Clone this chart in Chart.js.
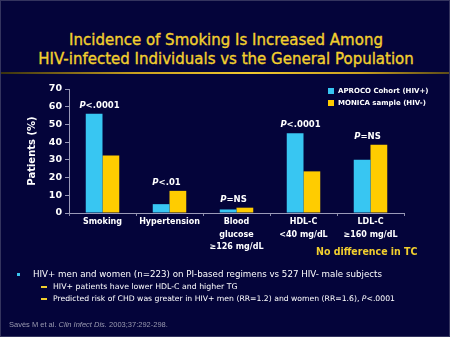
<!DOCTYPE html>
<html>
<head>
<meta charset="utf-8">
<script src="https://cdn.jsdelivr.net/npm/chart.js@4"></script>
<style>
  html, body { margin: 0; padding: 0; background: #04043a; }
  #wrap { position: relative; width: 450px; height: 337px; background: #04043a; box-sizing: border-box; border: 1px solid #34345e; overflow: hidden; font-family: "DejaVu Sans", sans-serif; }
  #chart { position: absolute; left: -1px; top: -1px; }
  .title { position: absolute; left: 0; width: 450px; text-align: center; color: #f2cf2e; font-family: "DejaVu Sans", sans-serif; font-size: 15px; -webkit-text-stroke: 0.35px #f2cf2e; }
  .rule { position: absolute; left: 0; top: 71px; width: 450px; height: 2px; background: linear-gradient(to right, #3a3210, #c9a020 30%, #f0c830 55%, #c9a020 80%, #5a4a18); }
  .note { position: absolute; color: #f2cf2e; font-family: "DejaVu Sans Condensed", "DejaVu Sans", sans-serif; font-weight: bold; font-size: 10.5px; }
  .txt { position: absolute; color: #ffffff; white-space: nowrap; }
  .dot { position: absolute; width: 3px; height: 3px; background: #3ac4f0; }
  .dash { position: absolute; width: 6px; height: 1.5px; background: #f2cf2e; }
  .cite { position: absolute; color: #9a9ab0; font-size: 7.5px; font-family: "Liberation Sans", sans-serif; white-space: nowrap; }
</style>
</head>
<body>
<div id="wrap">
  <div class="title" style="top:30px">Incidence of Smoking Is Increased Among</div>
  <div class="title" style="top:49px">HIV-infected Individuals vs the General Population</div>
  <div class="rule"></div>
  <canvas id="chart" width="450" height="337"></canvas>
  <div class="note" style="left:315px; top:244px">No difference in TC</div>
  <div class="dot" style="left:16px; top:272px"></div>
  <div class="txt" style="left:32px; top:268px; font-size:8.7px">HIV+ men and women (n=223) on PI-based regimens vs 527 HIV- male subjects</div>
  <div class="dash" style="left:40px; top:285px"></div>
  <div class="txt" style="left:52px; top:281px; font-size:7.8px">HIV+ patients have lower HDL-C and higher TG</div>
  <div class="dash" style="left:40px; top:297px"></div>
  <div class="txt" style="left:52px; top:292.5px; font-size:7.7px">Predicted risk of CHD was greater in HIV+ men (RR=1.2) and women (RR=1.6), <i>P</i>&lt;.0001</div>
  <div class="cite" style="left:8px; top:319px">Savès M et al. <i>Clin Infect Dis.</i> 2003;37:292-298.</div>
</div>
<script>
var categories = [["Smoking"], ["Hypertension"], ["Blood", "glucose", "\u2265126 mg/dL"], ["HDL-C", "<40 mg/dL"], ["LDL-C", "\u2265160 mg/dL"]];
var aprocoValues = [56, 5, 2, 45, 30];
var monicaValues = [32.5, 12.5, 3, 23.5, 38.5];
var pValues = ["<.0001", "<.01", "=NS", "<.0001", "=NS"];
var seriesNames = ["APROCO Cohort (HIV+)", "MONICA sample (HIV-)"];
var yTicks = [0, 10, 20, 30, 40, 50, 60, 70];

var cyan = '#38c6f2';
var yellow = '#ffcc00';

// P-value above each pair of bars
var pLabels = {
    id: 'pLabels',
    afterDatasetsDraw: function(chart) {
        var ctx = chart.ctx;
        var x = chart.scales.x, y = chart.scales.y;
        ctx.save();
        ctx.fillStyle = '#ffffff';
        ctx.textBaseline = 'alphabetic';
        for (var i = 0; i < pValues.length; i++) {
            var top = y.getPixelForValue(Math.max(aprocoValues[i], monicaValues[i]));
            var cx = x.getPixelForValue(i) - 3;
            ctx.font = 'italic bold 8.5px "DejaVu Sans"';
            var w1 = ctx.measureText('P').width;
            ctx.font = 'bold 8.5px "DejaVu Sans"';
            var w2 = ctx.measureText(pValues[i]).width;
            var sx = cx - (w1 + w2) / 2;
            ctx.font = 'italic bold 8.5px "DejaVu Sans"';
            ctx.fillText('P', sx, top - 6);
            ctx.font = 'bold 8.5px "DejaVu Sans"';
            ctx.fillText(pValues[i], sx + w1, top - 6);
        }
        ctx.restore();
    }
};

// legend box in the upper right
var sideLegend = {
    id: 'sideLegend',
    afterDraw: function(chart) {
        var ctx = chart.ctx;
        ctx.save();
        ctx.font = 'bold 7px "DejaVu Sans"';
        ctx.textBaseline = 'middle';
        chart.data.datasets.forEach(function(ds, i) {
            var ly = 91 + i * 12;
            ctx.fillStyle = ds.backgroundColor;
            ctx.fillRect(328, ly - 3, 6, 6);
            ctx.fillStyle = '#ffffff';
            ctx.fillText(ds.label, 338, ly);
        });
        ctx.restore();
    }
};

var ctx = document.getElementById("chart").getContext("2d");
var chart = new Chart(ctx, {
    type: 'bar',
    data: {
        labels: categories,
        datasets: [{
            label: seriesNames[0],
            backgroundColor: cyan,
            data: aprocoValues
        }, {
            label: seriesNames[1],
            backgroundColor: yellow,
            data: monicaValues
        }]
    },
    options: {
        responsive: false,
        animation: false,
        layout: { padding: { top: 89, right: 46, bottom: 0, left: 0 } },
        categoryPercentage: 0.5,
        barPercentage: 1,
        plugins: {
            legend: { display: false },
            tooltip: { enabled: false }
        },
        scales: {
            x: {
                afterFit: function(scale) { scale.height = 124; },
                grid: { display: true, drawOnChartArea: false, offset: true, color: '#8a8aa8', tickLength: 3 },
                border: { color: '#9a9ab8', width: 1 },
                ticks: {
                    color: '#ffffff',
                    font: { family: 'DejaVu Sans', size: 8, weight: 'bold', lineHeight: 1.55 },
                    padding: 0,
                    maxRotation: 0,
                    autoSkip: false
                }
            },
            y: {
                min: 0,
                max: 70,
                afterFit: function(scale) { scale.width = 69; },
                afterBuildTicks: function(scale) {
                    scale.ticks = yTicks.map(function(v) { return { value: v }; });
                },
                grid: { display: true, drawOnChartArea: false, color: '#9a9ab8', tickLength: 4 },
                border: { color: '#9a9ab8', width: 1 },
                ticks: {
                    color: '#ffffff',
                    font: { family: 'DejaVu Sans', size: 9.5, weight: 'bold' },
                    padding: 3
                },
                title: {
                    display: true,
                    text: 'Patients (%)',
                    color: '#ffffff',
                    font: { family: 'DejaVu Sans', size: 10, weight: 'bold' },
                    padding: { top: 26, bottom: 0 }
                }
            }
        }
    },
    plugins: [pLabels, sideLegend]
});
</script>
</body>
</html>
